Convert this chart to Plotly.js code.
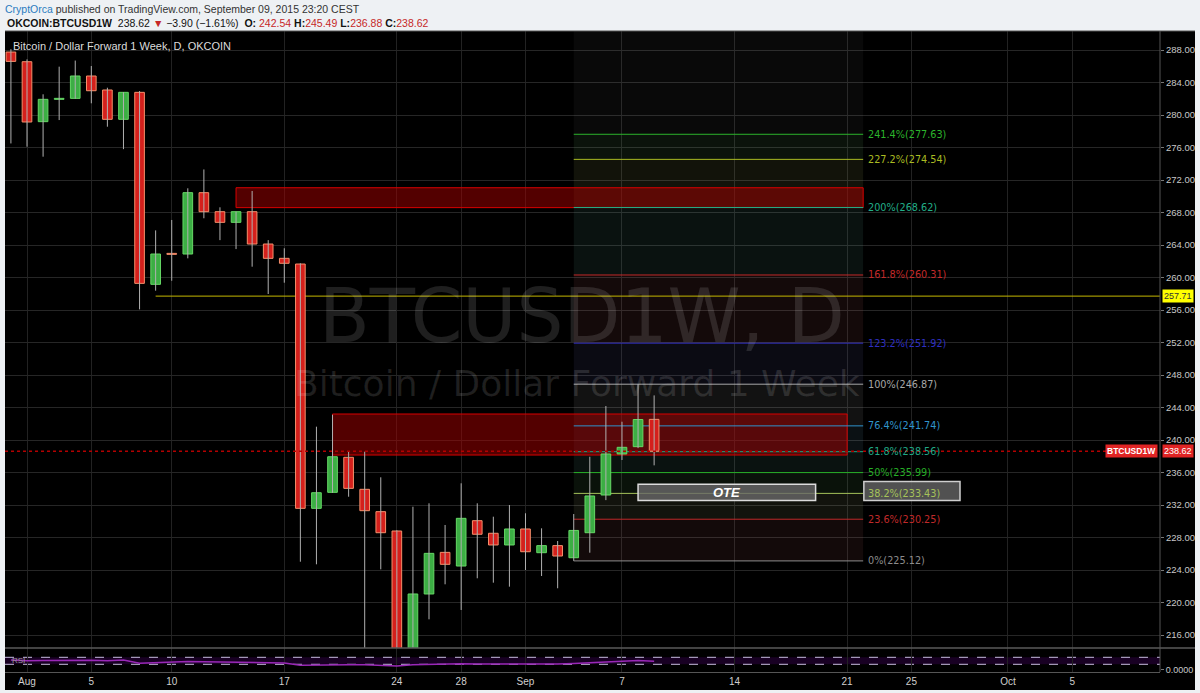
<!DOCTYPE html>
<html>
<head>
<meta charset="utf-8">
<script src="https://cdn.plot.ly/plotly-3.0.1.min.js"></script>
<style>
  html, body { margin: 0; padding: 0; background: #eef1f4; }
  #chart { width: 1200px; height: 693px; }
</style>
</head>
<body>
<div id="chart"></div>
<script>
// Daily OHLC, OKCOIN BTCUSD 1-week forward
const dates = [
  '2015-07-31',
  '2015-08-01','2015-08-02','2015-08-03','2015-08-04','2015-08-05','2015-08-06','2015-08-07',
  '2015-08-08','2015-08-09','2015-08-10','2015-08-11','2015-08-12','2015-08-13','2015-08-14',
  '2015-08-15','2015-08-16','2015-08-17','2015-08-18','2015-08-19','2015-08-20','2015-08-21',
  '2015-08-22','2015-08-23','2015-08-24','2015-08-25','2015-08-26','2015-08-27','2015-08-28',
  '2015-08-29','2015-08-30','2015-08-31',
  '2015-09-01','2015-09-02','2015-09-03','2015-09-04','2015-09-05','2015-09-06','2015-09-07',
  '2015-09-08','2015-09-09'
];
const opens = [
  287.75,
  286.56, 279.18, 281.93, 282.05, 284.80, 283.08, 279.47,
  282.79, 259.16, 262.95, 262.89, 270.44, 268.10, 266.79,
  268.10, 264.12, 262.36, 261.66, 231.59, 233.56, 237.87,
  233.93, 231.18, 228.80, 212.60, 221.05, 226.17, 224.49,
  230.07, 228.52, 227.08,
  229.05, 226.13, 227.00, 225.51, 228.59, 233.23, 238.28,
  239.18, 242.54
];
const highs = [
  288.10,
  286.85, 282.55, 285.95, 286.70, 286.03, 283.36, 282.80,
  282.95, 265.80, 267.08, 270.98, 273.30, 268.64, 268.10,
  270.65, 264.60, 263.60, 261.75, 241.64, 243.10, 238.56,
  238.56, 235.41, 228.90, 231.79, 232.21, 229.54, 234.67,
  232.21, 230.56, 232.00,
  230.98, 229.13, 227.57, 230.89, 237.94, 244.18, 242.25,
  246.87, 245.49
];
const lows = [
  276.50,
  276.10, 274.87, 279.38, 282.00, 281.44, 278.56, 275.80,
  256.08, 258.38, 259.60, 262.36, 267.29, 264.60, 263.50,
  261.33, 257.97, 259.36, 225.02, 224.70, 233.50, 233.02,
  213.50, 224.08, 211.00, 211.50, 217.93, 222.24, 219.08,
  222.98, 222.44, 221.95,
  224.00, 223.26, 221.75, 225.12, 226.13, 232.60, 237.54,
  239.00, 236.88
];
const closes = [
  286.60,
  279.14, 281.93, 282.05, 284.80, 282.99, 279.47, 282.79,
  259.28, 262.89, 262.85, 270.44, 268.10, 266.79, 268.10,
  264.12, 262.36, 261.75, 231.59, 233.51, 237.94, 234.05,
  231.30, 228.59, 212.50, 221.05, 226.05, 224.70, 230.36,
  228.40, 227.08, 229.05,
  226.25, 227.00, 225.72, 228.87, 233.11, 238.28, 239.10,
  242.52, 238.62
];
// RSI(14) readings for the lower pane
const rsi = [
  55,
  50, 52, 53, 56, 53, 50, 54,
  36, 40, 40, 46, 44, 42, 43,
  40, 39, 38, 25, 27, 30, 28,
  27, 25, 20, 27, 30, 30, 33,
  32, 31, 33,
  31, 32, 31, 35, 40, 46, 47,
  51, 47
];

// Fibonacci extension (drawn Sep 4 -> Sep 22)
const fibRatios = ['0%','23.6%','38.2%','50%','61.8%','76.4%','100%','123.2%','161.8%','200%','227.2%','241.4%'];
const fibPrices = [225.12, 230.25, 233.43, 235.99, 238.56, 241.74, 246.87, 251.92, 260.31, 268.62, 274.54, 277.63];
const fibColors = ['#8c8c8c','#c02a2a','#a6c25a','#26ae26','#20a886','#3094cc','#a8a8a8','#2f2fc0','#c42a2a','#22ae88','#aabb22','#2cb42c'];
const fibStart = '2015-09-04';
const fibEnd = '2015-09-22';

// Supply zones
const zoneStart = ['2015-08-14', '2015-08-20'];
const zoneEnd   = ['2015-09-22', '2015-09-21'];
const zoneLow   = [268.60, 238.15];
const zoneHigh  = [271.05, 243.20];

// OTE box
const oteStart = '2015-09-08';
const oteEnd = '2015-09-19 01:00';
const oteLow = 232.56;
const oteHigh = 234.55;

// Horizontal level
const levelStart = '2015-08-09';
const levelPrice = 257.71;

// Time axis
const tickDates = ['2015-08-01','2015-08-05','2015-08-10','2015-08-17','2015-08-24','2015-08-28',
                   '2015-09-01','2015-09-07','2015-09-14','2015-09-21','2015-09-25','2015-10-01','2015-10-05'];
const tickLabels = ['Aug','5','10','17','24','28','Sep','7','14','21','25','Oct','5'];

const xRange = ['2015-07-30 15:10', '2015-10-10 11:00'];
const yRange = [214.40, 290.34];
const rsiRange = [-14, 123.1];

// ---- layout helpers (pixel -> paper) ----
const W = 1200, H = 693, ML = 5, MR = 40, MT = 31, MB = 21;
const PW = W - ML - MR, PH = H - MT - MB;
const px = x => (x - ML) / PW;
const py = y => (H - MB - y) / PH;
const paneSplit = py(648);

const last = closes.length - 1;
const chg = closes[last] - closes[last - 1];
const chgPct = chg / closes[last - 1] * 100;
const fmt = v => v.toFixed(2);
const minus = v => (v < 0 ? '\u2212' : '') + Math.abs(v).toFixed(2);

// ---- traces ----
const wickX = [], wickY = [];
dates.forEach((d, i) => { wickX.push(d, d, null); wickY.push(lows[i], highs[i], null); });

const up = closes.map((c, i) => c >= opens[i]);
const bodyBase = closes.map((c, i) => Math.min(c, opens[i]));
const bodySize = closes.map((c, i) => Math.max(Math.abs(c - opens[i]), 0.12));

const traces = [
  {
    type: 'scatter', mode: 'lines', x: wickX, y: wickY,
    line: { color: '#b0b0b0', width: 1 }, hoverinfo: 'skip', xaxis: 'x', yaxis: 'y'
  },
  {
    type: 'bar', x: dates, y: bodySize, base: bodyBase,
    width: 0.6 * 86400000,
    marker: {
      color: up.map(u => u ? '#3cae44' : '#d4201c'),
      line: { color: up.map(u => u ? '#66d866' : '#f4906c'), width: 1 }
    },
    xaxis: 'x', yaxis: 'y', hoverinfo: 'skip'
  },
  {
    type: 'scatter', mode: 'lines', x: dates, y: rsi,
    line: { color: '#9a28b8', width: 1.5 }, xaxis: 'x', yaxis: 'y2', hoverinfo: 'skip'
  }
];

// ---- shapes ----
const shapes = [];
// black chart frame
shapes.push({ type: 'rect', xref: 'paper', yref: 'paper', x0: px(5), x1: px(1195), y0: py(690), y1: py(31),
  fillcolor: '#000000', line: { width: 0 }, layer: 'below' });

// fib backdrop column
shapes.push({ type: 'rect', xref: 'x', yref: 'y', x0: fibStart, x1: fibEnd, y0: fibPrices[0], y1: yRange[1],
  fillcolor: 'rgba(255,255,255,0.035)', line: { width: 0 }, layer: 'between' });
// fib band fills
for (let i = 0; i < fibPrices.length - 1; i++) {
  shapes.push({ type: 'rect', xref: 'x', yref: 'y', x0: fibStart, x1: fibEnd, y0: fibPrices[i], y1: fibPrices[i + 1],
    fillcolor: fibColors[i + 1], opacity: 0.06, line: { width: 0 }, layer: 'between' });
}
// supply zones
for (let i = 0; i < zoneStart.length; i++) {
  shapes.push({ type: 'rect', xref: 'x', yref: 'y', x0: zoneStart[i], x1: zoneEnd[i], y0: zoneLow[i], y1: zoneHigh[i],
    fillcolor: 'rgba(165,0,0,0.5)', line: { color: '#d80000', width: 1 }, layer: 'between' });
}
// fib lines
fibPrices.forEach((p, i) => {
  shapes.push({ type: 'line', xref: 'x', yref: 'y', x0: fibStart, x1: fibEnd, y0: p, y1: p,
    line: { color: fibColors[i], width: 1 }, layer: 'between' });
});
// horizontal level ray
shapes.push({ type: 'line', xref: 'x', yref: 'y', x0: levelStart, x1: xRange[1], y0: levelPrice, y1: levelPrice,
  line: { color: '#c4b800', width: 1 }, layer: 'between' });
// OTE box
shapes.push({ type: 'rect', xref: 'x', yref: 'y', x0: oteStart, x1: oteEnd, y0: oteLow, y1: oteHigh,
  fillcolor: 'rgba(105,105,105,0.8)', line: { color: '#dcdcdc', width: 1.5 }, layer: 'above' });
// highlight behind the 38.2% label
shapes.push({ type: 'rect', xref: 'x', yref: 'y', x0: '2015-09-22 01:00', x1: '2015-09-28 00:30', y0: oteLow, y1: 234.90,
  fillcolor: 'rgba(95,95,95,0.85)', line: { color: '#cfcfcf', width: 1.5 }, layer: 'above' });
// last price dotted line
shapes.push({ type: 'line', xref: 'paper', yref: 'y', x0: 0, x1: px(1111), y0: closes[last], y1: closes[last],
  line: { color: '#b40000', width: 1.5, dash: 'dot' }, layer: 'above' });
// RSI band
shapes.push({ type: 'rect', xref: 'paper', yref: 'y2', x0: 0, x1: 1, y0: 30, y1: 70,
  fillcolor: 'rgba(110,0,160,0.22)', line: { width: 0 }, layer: 'between' });
[30, 70].forEach(v => shapes.push({ type: 'line', xref: 'paper', yref: 'y2', x0: 0, x1: 1, y0: v, y1: v,
  line: { color: '#c8bce0', width: 1, dash: 'dash' }, layer: 'between' }));
// frame lines
shapes.push({ type: 'line', xref: 'paper', yref: 'paper', x0: px(5), x1: px(1195), y0: 1, y1: 1,
  line: { color: '#555555', width: 1 }, layer: 'above' });
shapes.push({ type: 'line', xref: 'paper', yref: 'paper', x0: px(5), x1: px(1195), y0: paneSplit, y1: paneSplit,
  line: { color: '#5a5a5a', width: 1.5 }, layer: 'above' });
shapes.push({ type: 'line', xref: 'paper', yref: 'paper', x0: 1, x1: 1, y0: 0, y1: 1,
  line: { color: '#555555', width: 1 }, layer: 'above' });

// ---- annotations ----
const ann = [];
const hdrFont = { family: 'Liberation Sans, Arial, sans-serif', size: 10.5, color: '#333333' };
ann.push({ xref: 'paper', yref: 'paper', x: px(3), y: py(9), xanchor: 'left', yanchor: 'middle', showarrow: false,
  text: '<span style="color:#2a7cc0">CryptOrca</span> published on TradingView.com, September 09, 2015 23:20 CEST',
  font: hdrFont });
const red = s => '<span style="color:#c62828">' + s + '</span>';
ann.push({ xref: 'paper', yref: 'paper', x: px(5), y: py(23), xanchor: 'left', yanchor: 'middle', showarrow: false,
  text: '<b>OKCOIN:BTCUSD1W</b>  ' + fmt(closes[last]) + ' ' + red('\u25BC') + ' ' + minus(chg) +
        ' (' + minus(chgPct) + '%)  <b>O:</b> ' + red(fmt(opens[last])) + ' <b>H:</b>' + red(fmt(highs[last])) +
        ' <b>L:</b>' + red(fmt(lows[last])) + ' <b>C:</b>' + red(fmt(closes[last])),
  font: { family: 'Liberation Sans, Arial, sans-serif', size: 10.5, color: '#111111' } });
// chart title
ann.push({ xref: 'paper', yref: 'paper', x: px(11), y: py(46), xanchor: 'left', yanchor: 'middle', showarrow: false,
  text: 'Bitcoin / Dollar Forward 1 Week, D, OKCOIN',
  font: { family: 'Liberation Sans, Arial, sans-serif', size: 11, color: '#dcdcdc' } });
// watermark
ann.push({ xref: 'paper', yref: 'paper', x: px(582), y: py(316), xanchor: 'center', yanchor: 'middle', showarrow: false,
  text: 'BTCUSD1W, D', font: { family: 'DejaVu Sans, sans-serif', size: 74, color: 'rgba(255,255,255,0.12)' } });
ann.push({ xref: 'paper', yref: 'paper', x: px(577), y: py(383), xanchor: 'center', yanchor: 'middle', showarrow: false,
  text: 'Bitcoin / Dollar Forward 1 Week', font: { family: 'DejaVu Sans, sans-serif', size: 36, color: 'rgba(255,255,255,0.12)' } });
// fib labels
fibPrices.forEach((p, i) => {
  ann.push({ xref: 'x', yref: 'y', x: fibEnd, y: p, xanchor: 'left', yanchor: 'middle', xshift: 3, showarrow: false,
    text: fibRatios[i] + '(' + fmt(p) + ')', font: { family: 'DejaVu Sans, sans-serif', size: 9.7, color: fibColors[i] } });
});
// OTE text
ann.push({ xref: 'x', yref: 'y', x: '2015-09-13 12:30', y: (oteLow + oteHigh) / 2, showarrow: false,
  text: '<b><i>OTE</i></b>', font: { family: 'Liberation Sans, Arial, sans-serif', size: 13, color: '#ffffff' } });
// price labels on the scale
ann.push({ xref: 'paper', yref: 'y', x: px(1162), y: levelPrice, xanchor: 'left', yanchor: 'middle', showarrow: false,
  text: fmt(levelPrice), bgcolor: '#ffff00', borderpad: 1,
  font: { family: 'Liberation Sans, Arial, sans-serif', size: 9, color: '#333333' } });
ann.push({ xref: 'paper', yref: 'y', x: px(1158), y: closes[last], xanchor: 'right', yanchor: 'middle', showarrow: false,
  text: '<b>BTCUSD1W</b>', bgcolor: '#e02424', borderpad: 1,
  font: { family: 'Liberation Sans, Arial, sans-serif', size: 8.5, color: '#ffffff' } });
ann.push({ xref: 'paper', yref: 'y', x: px(1162), y: closes[last], xanchor: 'left', yanchor: 'middle', showarrow: false,
  text: fmt(closes[last]), bgcolor: '#e02424', borderpad: 1,
  font: { family: 'Liberation Sans, Arial, sans-serif', size: 9, color: '#ffffff' } });
// RSI tag
ann.push({ xref: 'paper', yref: 'paper', x: px(10), y: py(660), xanchor: 'left', yanchor: 'middle', showarrow: false,
  text: 'RSI', font: { family: 'Liberation Sans Narrow, Liberation Sans, Arial, sans-serif', size: 8, color: '#9a9a9a' } });

const layout = {
  width: W, height: H,
  margin: { l: ML, r: MR, t: MT, b: MB, pad: 0 },
  paper_bgcolor: '#eef1f4',
  plot_bgcolor: '#000000',
  showlegend: false,
  barmode: 'overlay',
  bargap: 0,
  xaxis: {
    type: 'date', range: xRange, anchor: 'y2',
    tickmode: 'array', tickvals: tickDates, ticktext: tickLabels,
    showgrid: true, gridcolor: '#222222', gridwidth: 1,
    showline: true, linecolor: '#555555', ticks: '', zeroline: false,
    tickfont: { family: 'Liberation Sans Narrow, Liberation Sans, Arial, sans-serif', size: 10, color: '#cfcfcf' },
    fixedrange: true
  },
  yaxis: {
    domain: [paneSplit, 1], range: yRange, side: 'right', anchor: 'x',
    dtick: 4, tick0: 0, tickformat: '.2f',
    showgrid: true, gridcolor: '#262626', gridwidth: 1, zeroline: false,
    showline: false, ticks: 'outside', ticklen: 3, tickcolor: '#777777',
    tickfont: { family: 'Liberation Sans, Arial, sans-serif', size: 9.5, color: '#c8c8c8' },
    fixedrange: true
  },
  yaxis2: {
    domain: [0, paneSplit], range: rsiRange, side: 'right', anchor: 'x',
    tickmode: 'array', tickvals: [0], tickformat: '.4f',
    showgrid: false, zeroline: false, showline: false,
    ticks: 'outside', ticklen: 3, tickcolor: '#777777',
    tickfont: { family: 'Liberation Sans, Arial, sans-serif', size: 9, color: '#c8c8c8' },
    fixedrange: true
  },
  shapes: shapes,
  annotations: ann
};

Plotly.newPlot('chart', traces, layout, { displayModeBar: false, staticPlot: true });
</script>
</body>
</html>
